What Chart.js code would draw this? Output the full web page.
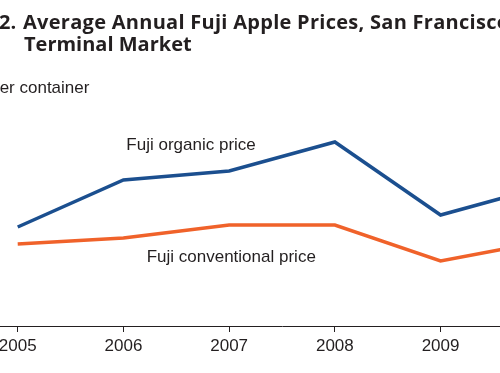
<!DOCTYPE html>
<html>
<head>
<meta charset="utf-8">
<script src="https://cdn.jsdelivr.net/npm/chart.js@4/dist/chart.umd.min.js"></script>
<style>
  html, body { margin: 0; padding: 0; background: #fff; }
  #wrap { position: relative; width: 500px; height: 373px; overflow: hidden; background: #fff; }
  #cv { position: absolute; left: -92px; top: 0; }
  .t { position: absolute; white-space: nowrap; font-family: "Open Sans", Lato, sans-serif; font-weight: bold; font-size: 20px; color: #231f20; line-height: 1; }
  .u { position: absolute; white-space: nowrap; font-family: "Liberation Sans", Arial, sans-serif; font-size: 17px; color: #231f20; line-height: 1; }
</style>
</head>
<body>
<div id="wrap">
  <canvas id="cv" width="748" height="373"></canvas>
  <div class="t" style="left:-1px; top:12px;">2.</div>
  <div class="t" style="left:23px; top:12px; letter-spacing:0.28px;">Average Annual Fuji Apple Prices, San Francisco</div>
  <div class="t" style="left:24px; top:34px;">Terminal Market</div>
  <div class="u" style="left:-24px; top:79px;">$ per container</div>
</div>
<script>
const years = [2005, 2006, 2007, 2008, 2009, 2010];
const organicPrice = [19.8, 29.2, 31.0, 36.8, 22.2, 28.0];
const conventionalPrice = [16.4, 17.6, 20.2, 20.2, 13.0, 17.0];
const seriesLabels = ["Fuji organic price", "Fuji conventional price"];
const labelAnchors = [[2006.64, 35.2], [2007.02, 12.8]];

const lineLabels = {
  id: 'lineLabels',
  afterDatasetsDraw(chart) {
    const ctx = chart.ctx, x = chart.scales.x, y = chart.scales.y;
    ctx.save();
    ctx.font = '17px "Liberation Sans", Arial, sans-serif';
    ctx.fillStyle = '#231f20';
    ctx.textAlign = 'center';
    ctx.textBaseline = 'alphabetic';
    seriesLabels.forEach((t, i) => {
      ctx.fillText(t, x.getPixelForValue(labelAnchors[i][0]), y.getPixelForValue(labelAnchors[i][1]));
    });
    ctx.restore();
  }
};

new Chart(document.getElementById('cv'), {
  type: 'line',
  data: {
    datasets: [
      { label: seriesLabels[0], data: years.map((yr, i) => ({x: yr, y: organicPrice[i]})),
        borderColor: '#1b4f8f', borderWidth: 3.5, pointRadius: 0, tension: 0, borderJoinStyle: 'miter', fill: false },
      { label: seriesLabels[1], data: years.map((yr, i) => ({x: yr, y: conventionalPrice[i]})),
        borderColor: '#f0622a', borderWidth: 3.5, pointRadius: 0, tension: 0, borderJoinStyle: 'miter', fill: false }
    ]
  },
  options: {
    responsive: false,
    animation: false,
    layout: { padding: 0 },
    plugins: { legend: { display: false }, tooltip: { enabled: false } },
    scales: {
      x: {
        type: 'linear', min: 2004, max: 2011,
        afterFit(s) { s.height = 47; },
        border: { display: true, color: '#231f20', width: 1 },
        grid: { drawOnChartArea: false, drawTicks: true, tickLength: 6, color: '#231f20' },
        ticks: {
          stepSize: 1, autoSkip: false, maxRotation: 0, padding: 4,
          color: '#231f20',
          font: { family: '"Liberation Sans", Arial, sans-serif', size: 17 },
          callback: v => (v >= 2005 && v <= 2010) ? String(v) : ''
        }
      },
      y: { display: false, min: 0, max: 65.2 }
    }
  },
  plugins: [lineLabels]
});
</script>
</body>
</html>
